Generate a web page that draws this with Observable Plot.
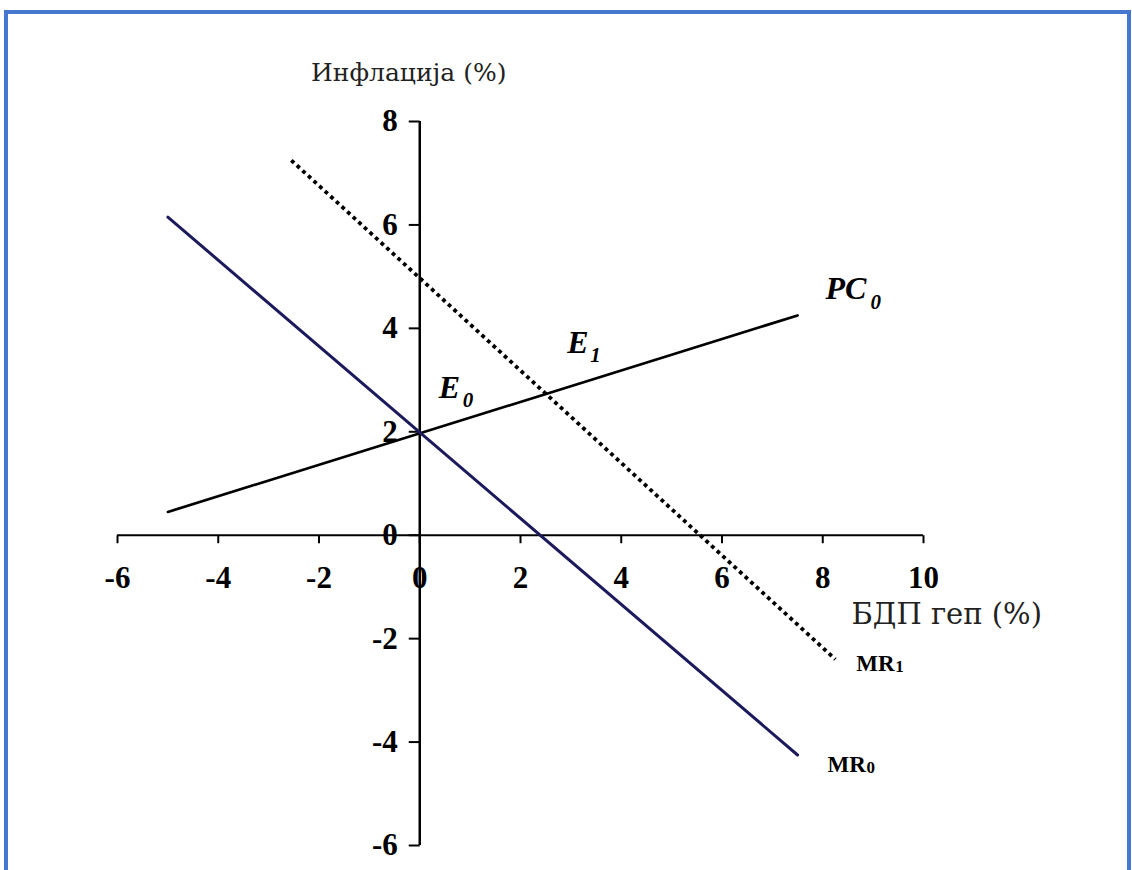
<!DOCTYPE html>
<html><head><meta charset="utf-8">
<script src="https://cdn.jsdelivr.net/npm/d3@7"></script>
<script src="https://cdn.jsdelivr.net/npm/@observablehq/plot@0.6"></script>
<style>
html,body{margin:0;padding:0;background:#fff;}
#wrap{position:relative;width:1132px;height:870px;overflow:hidden;background:#fff;}
#border{position:absolute;left:4px;top:10px;width:1127px;height:900px;border:4px solid #4677cf;box-sizing:border-box;pointer-events:none;}
#chart{position:absolute;left:0;top:0;}
</style></head><body>
<div id="wrap"><div id="chart"></div><div id="border"></div></div>
<script>
// Tick values
const xTicks = [-6, -4, -2, 0, 2, 4, 6, 8, 10];
const yTicks = [8, 6, 4, 2, 0, -2, -4, -6];
// Lines (endpoints)
const pcX = [-5, 7.5];
const pcY = [0.45, 4.25];
const mr0X = [-5, 7.5];
const mr0Y = [6.15, -4.25];
const mr1X = [-2.55, 8.25];
const mr1Y = [7.25, -2.4];
// Equilibrium points
const e0 = [0, 2];
const e1 = [2.55, 2.75];
// Labels
const yTitle = "Инфлација (%)";
const xTitle = "БДП геп (%)";

const pts = (xs, ys) => xs.map((x, i) => ({x, y: ys[i]}));
const pc = pts(pcX, pcY), mr0 = pts(mr0X, mr0Y), mr1 = pts(mr1X, mr1Y);
const pcEnd = pc[pc.length - 1], mr0End = mr0[mr0.length - 1], mr1End = mr1[mr1.length - 1];

const serif = "'Liberation Serif', 'Times New Roman', serif";
const titleFont = "'DejaVu Serif', serif";
const tickDown = {draw(ctx) { ctx.moveTo(0, 0); ctx.lineTo(0, 8); }};
const tickLeft = {draw(ctx) { ctx.moveTo(0, 0); ctx.lineTo(-11, 0); }};

const lbl = (pt, text, o) => Plot.text([pt], {x: "x", y: "y", text: () => text, textAnchor: "start", fill: "black", ...o});

const chart = Plot.plot({
  width: 1132, height: 870,
  marginLeft: 117, marginRight: 209, marginTop: 121, marginBottom: 25,
  x: {domain: [d3.min(xTicks), d3.max(xTicks)], axis: null},
  y: {domain: [d3.min(yTicks), d3.max(yTicks)], axis: null},
  style: {background: "transparent", overflow: "visible"},
  marks: [
    // axes
    Plot.ruleY([0], {x1: d3.min(xTicks), x2: d3.max(xTicks), stroke: "black", strokeWidth: 2}),
    Plot.ruleX([0], {y1: d3.min(yTicks), y2: d3.max(yTicks), stroke: "black", strokeWidth: 2.5}),
    Plot.dot(xTicks, {x: d => d, y: 0, symbol: tickDown, stroke: "black", strokeWidth: 2, fill: "none"}),
    Plot.dot(yTicks, {x: 0, y: d => d, symbol: tickLeft, stroke: "black", strokeWidth: 2, fill: "none"}),
    Plot.text(xTicks, {x: d => d, y: 0, text: d => String(d), dy: 43, fontSize: 31, fontWeight: "bold", fontFamily: serif, fill: "black"}),
    Plot.text(yTicks, {x: 0, y: d => d, text: d => String(d), dx: -22, textAnchor: "end", fontSize: 31, fontWeight: "bold", fontFamily: serif, fill: "black"}),
    // titles
    Plot.text([yTitle], {x: 0, y: d3.max(yTicks), text: d => d, dx: -11, dy: -49, fontSize: 25, fontFamily: titleFont, fill: "#222"}),
    Plot.text([xTitle], {x: d3.max(xTicks), y: 0, text: d => d, dx: -72, dy: 80, textAnchor: "start", fontSize: 29, fontFamily: titleFont, fill: "#222"}),
    // curves
    Plot.line(pc, {x: "x", y: "y", stroke: "black", strokeWidth: 2.7}),
    Plot.line(mr0, {x: "x", y: "y", stroke: "#1c1a5c", strokeWidth: 3}),
    Plot.line(mr1, {x: "x", y: "y", stroke: "black", strokeWidth: 3.8, strokeDasharray: "3.8,3.8", strokeLinecap: "butt"}),
    // curve labels
    lbl(pcEnd, "PC", {dx: 28, dy: -27, fontSize: 32, fontWeight: "bold", fontStyle: "italic", fontFamily: serif}),
    lbl(pcEnd, "0", {dx: 73, dy: -13, fontSize: 21, fontWeight: "bold", fontStyle: "italic", fontFamily: serif}),
    lbl(mr0End, "MR", {dx: 30, dy: 10, fontSize: 23, fontWeight: "bold", fontFamily: serif}),
    lbl(mr0End, "0", {dx: 69, dy: 13, fontSize: 17, fontWeight: "bold", fontFamily: serif}),
    lbl(mr1End, "MR", {dx: 21, dy: 4, fontSize: 23, fontWeight: "bold", fontFamily: serif}),
    lbl(mr1End, "1", {dx: 60, dy: 7, fontSize: 17, fontWeight: "bold", fontFamily: serif}),
    lbl({x: e0[0], y: e0[1]}, "E", {dx: 19, dy: -44, fontSize: 32, fontWeight: "bold", fontStyle: "italic", fontFamily: serif}),
    lbl({x: e0[0], y: e0[1]}, "0", {dx: 43, dy: -32, fontSize: 21, fontWeight: "bold", fontStyle: "italic", fontFamily: serif}),
    lbl({x: e1[0], y: e1[1]}, "E", {dx: 19, dy: -50, fontSize: 32, fontWeight: "bold", fontStyle: "italic", fontFamily: serif}),
    lbl({x: e1[0], y: e1[1]}, "1", {dx: 42, dy: -38, fontSize: 21, fontWeight: "bold", fontStyle: "italic", fontFamily: serif})
  ]
});
document.getElementById("chart").appendChild(chart);
</script>
</body></html>
